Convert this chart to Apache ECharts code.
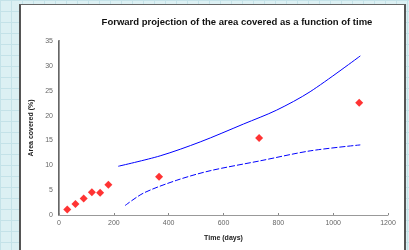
<!DOCTYPE html>
<html lang="en">
<head>
<meta charset="UTF-8" />
<title>Forward projection</title>
<script src="https://cdn.jsdelivr.net/npm/echarts@6/dist/echarts.min.js"></script>
<style>
  html, body { margin: 0; padding: 0; }
  body {
    width: 409px; height: 250px; overflow: hidden; position: relative;
    background-color: #dcf0f3;
    background-image:
      linear-gradient(to right, #c4e2e8 1px, transparent 1px),
      linear-gradient(to bottom, #c4e2e8 1px, transparent 1px);
    background-size: 11px 11px;
  }
  #frame {
    position: absolute; left: 19px; top: 4px; width: 383px; height: 260px;
    background: #fff; border-left: 2px solid #555; border-top: 1px solid #666; border-right: 2px solid #555;
  }
  #main { position: absolute; left: 0; top: 0; width: 409px; height: 250px; }
</style>
</head>
<body>
<div id="frame"></div>
<div id="main"></div>

<script type="text/javascript">
// observed data (days, % area covered)
var obsDays = [30, 60, 90, 120, 150, 180, 365, 730, 1095];
var obsArea = [1.1, 2.2, 3.3, 4.6, 4.5, 6.1, 7.7, 15.5, 22.6];

// upper projection bound
var upperDays = [216, 369, 515, 673, 794, 916, 1099];
var upperArea = [9.8, 11.9, 14.7, 18.3, 21.1, 24.8, 32.0];

// lower projection bound
var lowerDays = [241, 308, 430, 551, 734, 916, 1099];
var lowerArea = [1.9, 4.4, 7.0, 8.9, 10.9, 12.9, 14.1];

function pairs(xs, ys) {
  var out = [];
  for (var i = 0; i < xs.length; i++) out.push([xs[i], ys[i]]);
  return out;
}

var myChart = echarts.init(document.getElementById('main'));
var font = 'Liberation Sans, Arial, sans-serif';

var option = {
  animation: false,
  backgroundColor: 'transparent',
  title: {
    text: 'Forward projection of the area covered as a function of time',
    left: 232,
    top: 12,
    textAlign: 'center',
    textStyle: { fontSize: 9.5, fontWeight: 'bold', color: '#111', fontFamily: font }
  },
  grid: { left: 59, right: 21, top: 41, bottom: 35 },
  xAxis: [{
    type: 'value', min: 0, max: 1200, interval: 200,
    name: 'Time (days)', nameLocation: 'middle', nameGap: 20,
    nameTextStyle: { fontSize: 7, fontWeight: 'bold', color: '#222', fontFamily: font },
    axisLine: { show: false },
    axisTick: { show: true, length: 2, inside: true, lineStyle: { color: '#888' } },
    axisLabel: { fontSize: 7, color: '#666', margin: 5, fontFamily: font,
      formatter: function (v) { return String(v); } },
    splitLine: { show: false }
  }, {
    type: 'value', min: 0, max: 1200, position: 'top',
    axisLine: { show: true, lineStyle: { color: '#999', width: 1 } },
    axisTick: { show: false }, axisLabel: { show: false }, splitLine: { show: false }
  }],
  yAxis: [{
    type: 'value', min: 0, max: 35, interval: 5,
    name: 'Area covered (%)', nameLocation: 'middle', nameGap: 22,
    nameTextStyle: { fontSize: 7, fontWeight: 'bold', color: '#222', fontFamily: font },
    axisLine: { show: true, lineStyle: { color: '#666', width: 2 } },
    axisTick: { show: false },
    axisLabel: { fontSize: 7, color: '#666', margin: 6, fontFamily: font },
    splitLine: { show: false }
  }, {
    type: 'value', min: 0, max: 35, position: 'right',
    axisLine: { show: true, lineStyle: { color: '#999', width: 1 } },
    axisTick: { show: false }, axisLabel: { show: false }, splitLine: { show: false }
  }],
  series: [
    {
      type: 'line', data: pairs(upperDays, upperArea), smooth: 0.3,
      showSymbol: false, lineStyle: { color: '#0000ff', width: 1 }
    },
    {
      type: 'line', data: pairs(lowerDays, lowerArea), smooth: 0.3,
      showSymbol: false, lineStyle: { color: '#0000ff', width: 1, type: [6, 2] }
    },
    {
      type: 'scatter', data: pairs(obsDays, obsArea),
      symbol: 'diamond', symbolSize: 8, itemStyle: { color: '#ff0000' }
    }
  ]
};

myChart.setOption(option);
</script>
</body>
</html>
